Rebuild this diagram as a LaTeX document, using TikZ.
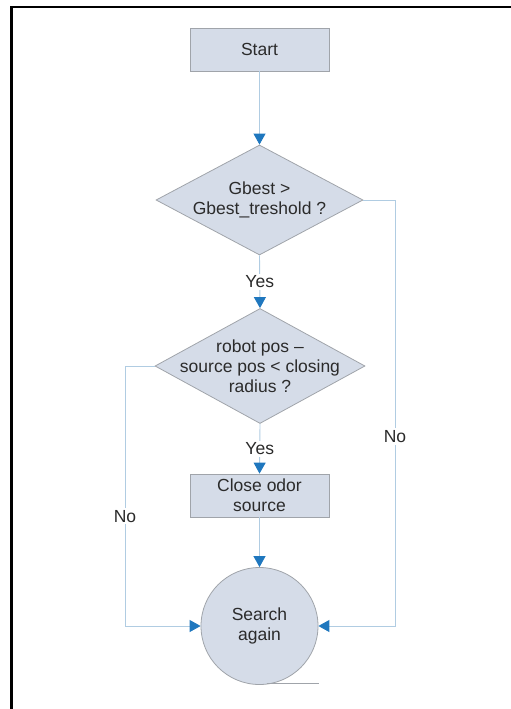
\documentclass[tikz,border=0pt]{standalone}
\usepackage{fontspec}
\setmainfont{Liberation Sans}
\usetikzlibrary{shapes.geometric,arrows.meta}
\definecolor{boxfill}{HTML}{D5DCE8}
\definecolor{boxdraw}{HTML}{A0A4AA}
\definecolor{linec}{HTML}{B0CCE2}
\definecolor{arrowc}{HTML}{1F77BE}
\definecolor{txt}{HTML}{2B2B2B}
\tikzset{
  every node/.style={text=txt, font=\fontsize{17.5}{20}\selectfont, align=center},
  procbox/.style={draw=boxdraw, fill=boxfill, line width=0.8pt, minimum width=139pt, minimum height=43pt, inner sep=0pt},
  decision/.style={draw=boxdraw, fill=boxfill, line width=0.8pt, diamond, aspect=2, inner sep=0pt},
  endcircle/.style={draw=boxdraw, fill=boxfill, line width=0.8pt, circle, minimum size=117pt, inner sep=0pt},
  conn/.style={draw=linec, line width=0.9pt, -{Triangle[width=12pt,length=11pt,color=arrowc]}},
  lbl/.style={fill=white, inner sep=2pt}
}
\begin{document}
\begin{tikzpicture}[x=1pt,y=-1pt]
\useasboundingbox (0,0) rectangle (511,709);
% frame
\draw[line width=2.5pt, black] (11.5,709) -- (11.5,7) -- (511,7);

\node[procbox] (start) at (259.5,49.5) {Start};
\node[decision, minimum width=207pt, minimum height=110pt] (d1) at (259.5,200) {};
\node (d1t) at (d1.center) {Gbest >\\Gbest\_treshold ?};
\node[decision, minimum width=210pt, minimum height=115pt] (d2) at (260,366) {};
\node (d2t) at (d2.center) {robot pos –\\source pos < closing\\radius ?};
\node[procbox] (close) at (259.5,495.5) {Close odor\\source};
\node[endcircle] (search) at (259.5,626) {Search\\again};
\coordinate (tanA) at (267,683.5);
\coordinate (tanB) at (319,683.5);
\draw[boxdraw, line width=0.8pt] (tanA) -- (tanB);

\coordinate (r1) at (395,200);
\coordinate (r2) at (395,626);
\coordinate (l1) at (125,366);
\coordinate (l2) at (125,626);

\draw[conn] (start.south) -- (d1.north);
\draw[conn] (d1.south) -- node[lbl] {Yes} (d2.north);
\draw[conn] (d2.south) -- node[lbl] {Yes} (close.north);
\draw[conn] (close.south) -- (search.north);
\draw[conn] (d1.east) -- (r1) -- node[lbl, pos=0.555] {No} (r2) -- (search.east);
\draw[conn] (d2.west) -- (l1) -- node[lbl, pos=0.578] {No} (l2) -- (search.west);
\end{tikzpicture}
\end{document}
